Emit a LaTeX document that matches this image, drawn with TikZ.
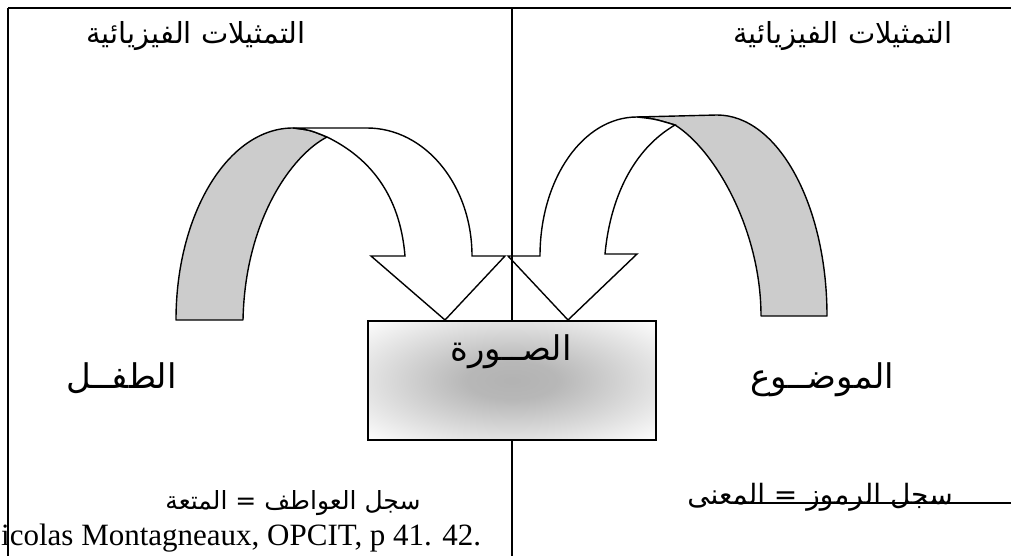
\documentclass[tikz,border=0pt]{standalone}
\usepackage{fontspec}
\setmainfont{Liberation Serif}
\newfontfamily\arabicfont[Script=Arabic]{DejaVu Sans}
\TeXXeTstate=1
\usetikzlibrary{positioning}
\pgfdeclareradialshading{softglow}{\pgfpoint{0bp}{0bp}}{%
  color(0bp)=(black!30); color(8bp)=(black!28); color(36bp)=(white); color(50bp)=(white)}

\begin{document}
\begin{tikzpicture}[x=1pt, y=-1pt,
  rule/.style={line width=1.6pt},
  band/.style={draw, line width=1.4pt, line join=round, fill=black!20},
  front/.style={draw, line width=1.4pt, line join=miter, fill=white},
  ar/.style={font=\arabicfont\fontsize{29}{34}\selectfont, inner sep=0pt},
  arbig/.style={font=\arabicfont\fontsize{34}{40}\selectfont, inner sep=0pt},
  lat/.style={font=\fontsize{31}{36}\selectfont, inner sep=0pt},
  imgbox/.style={draw, line width=1.5pt, minimum width=288pt, minimum height=119pt,
    shading=softglow}
]
\useasboundingbox (0,0) rectangle (1011,556);

% frame
\coordinate (tl) at (8,8);
\coordinate (tr) at (1011,8);
\coordinate (bl) at (8,556);
\coordinate (mt) at (512,8);
\coordinate (mb) at (512,556);
\coordinate (ul0) at (735,503);
\coordinate (ul1) at (1011,503);
\draw[rule] (tl) -- (tr);
\draw[rule] (tl) -- (bl);
\draw[rule] (ul0) -- (ul1);

% left curved arrow
\draw[band] (176,320) .. controls (176,214) and (228,128) .. (293,128)
  .. controls (310,130) .. (327,137)
  .. controls (292,155) and (245,220) .. (243,320) -- cycle;
\draw[front] (293,128) -- (367,128) .. controls (425,128) and (472,185) .. (472,256)
  -- (505,256) -- (445,320) -- (371,256) -- (405,256)
  .. controls (400,195) and (370,158) .. (327,137)
  .. controls (310,130) .. (293,128) -- cycle;

% right curved arrow
\draw[band] (637,117) -- (717,115) .. controls (778,115) and (827,205) .. (827,316)
  -- (761,316) .. controls (761,230) and (715,150) .. (675,125)
  .. controls (655,119) .. (637,117) -- cycle;
\draw[front] (637,117) .. controls (655,119) .. (675,125)
  .. controls (632,150) and (610,200) .. (605,254)
  -- (637,254) -- (568,320) -- (508,256) -- (540,256)
  .. controls (540,179) and (583,117) .. (637,117) -- cycle;

\draw[rule] (mt) -- (mb);

% central box
\node[imgbox, shade] (img) at (512,380.5) {};
\node[arbig] (imgtxt) at (511,352) {\beginR الصــورة\endR};

% labels
\node[ar] (phl) at (196,36) {\beginR التمثيلات الفيزيائية\endR};
\node[ar] (phr) at (843,36) {\beginR التمثيلات الفيزيائية\endR};
\node[arbig, anchor=east] (child) at (177,378) {\beginR الطفــل\endR};
\node[arbig] (subj) at (822,380) {\beginR الموضــوع\endR};
\node[ar, font=\arabicfont\fontsize{25}{30}\selectfont] (emo) at (293,503) {\beginR سجل العواطف = المتعة\endR};
\node[ar, font=\arabicfont\fontsize{28}{33}\selectfont] (sym) at (820,497) {\beginR سجل الرموز = المعنى\endR};
\node[lat, anchor=west] (src) at (1,538) {icolas Montagneaux, OPCIT, p 41. 42.};
\end{tikzpicture}
\end{document}
